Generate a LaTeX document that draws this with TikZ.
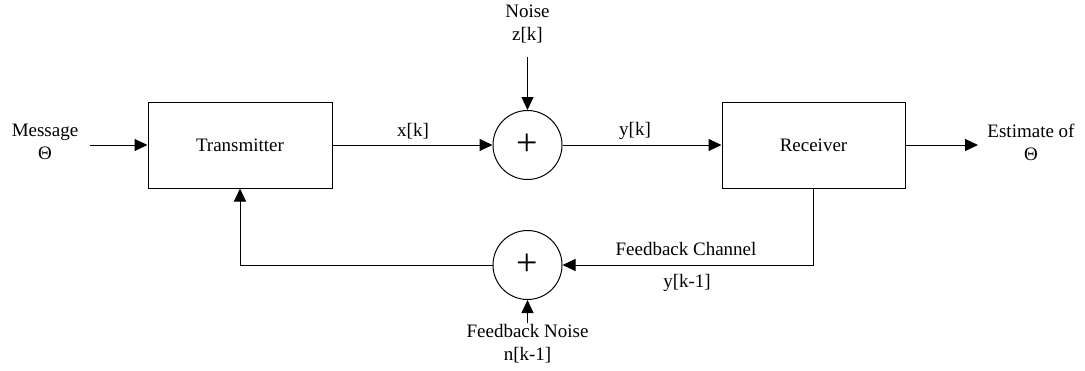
\documentclass[tikz,border=0pt]{standalone}
\usepackage{fontspec}
\setmainfont{Liberation Serif}
\usetikzlibrary{arrows.meta}
\begin{document}
\begin{tikzpicture}[x=1pt,y=-1pt,
  every node/.style={font=\fontsize{19}{23}\selectfont, inner sep=0pt},
  blk/.style={draw, line width=1pt, rectangle},
  sumnode/.style={draw, line width=1pt, circle, minimum size=69pt},
  pluslbl/.style={font=\fontsize{38}{40}\selectfont},
  lbl/.style={align=center},
  conn/.style={line width=1pt},
  arr/.style={conn, -{Triangle[length=13pt,width=12pt]}}]
\useasboundingbox (0,0) rectangle (1085,370);
% blocks
\node[blk, minimum width=184pt, minimum height=86pt] (tx) at (240,145) {Transmitter};
\node[blk, minimum width=183pt, minimum height=86pt] (rx) at (813.5,145) {Receiver};
\node[sumnode] (s1) at (527.5,145) {};
\node[sumnode] (s2) at (527.5,265) {};
\node[pluslbl] (p1) at (s1.center) {+};
\node[pluslbl] (p2) at (s2.center) {+};
% labels
\node[lbl] (msg) at (45,142) {Message\\Θ};
\node[lbl] (est) at (1031,142) {Estimate of\\Θ};
\node[lbl] (noise) at (527.5,24) {Noise\\z[k]};
\node[lbl] (fbn) at (527.5,344) {Feedback Noise\\n[k-1]};
\node (xk) at (413,131) {x[k]};
\node (yk) at (635,131) {y[k]};
\node (fbc) at (686,249) {Feedback Channel};
\node (ykm) at (687,283) {y[k-1]};
% coordinates
\coordinate (min) at (90,145);
\coordinate (eout) at (978,145);
\coordinate (nin) at (527.5,57);
\coordinate (fnin) at (527.5,323);
\coordinate (c1) at (813.5,265);
\coordinate (c2) at (240,265);
% connectors
\draw[arr] (min) -- (tx.west);
\draw[arr] (tx.east) -- (s1.west);
\draw[arr] (s1.east) -- (rx.west);
\draw[arr] (rx.east) -- (eout);
\draw[arr] (nin) -- (s1.north);
\draw[arr] (rx.south) -- (c1) -- (s2.east);
\draw[arr] (s2.west) -- (c2) -- (tx.south);
\draw[arr] (fnin) -- (s2.south);
\end{tikzpicture}
\end{document}
